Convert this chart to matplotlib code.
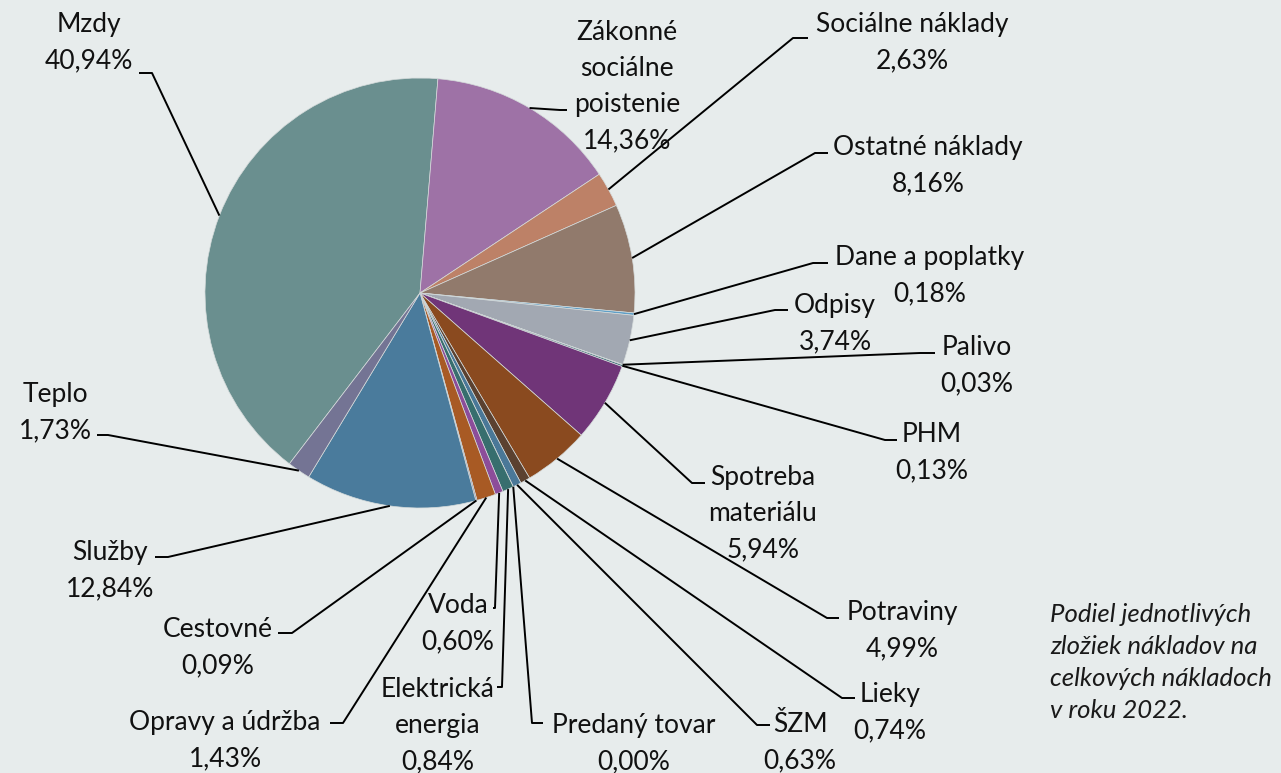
import numpy as np
import matplotlib
matplotlib.use("Agg")
import matplotlib.pyplot as plt

# údaje z grafu (poradie v smere hodinových ručičiek od Mzdy)
labels = ["Mzdy", "Zákonné\nsociálne\npoistenie", "Sociálne náklady", "Ostatné náklady",
          "Dane a poplatky", "Odpisy", "Palivo", "PHM", "Spotreba\nmateriálu", "Potraviny",
          "Lieky", "ŠZM", "Predaný tovar", "Elektrická\nenergia", "Voda", "Opravy a údržba",
          "Cestovné", "Služby", "Teplo"]
values = [40.94, 14.36, 2.63, 8.16, 0.18, 3.74, 0.03, 0.13, 5.94, 4.99,
          0.74, 0.63, 0.00, 0.84, 0.60, 1.43, 0.09, 12.84, 1.73]
colors = ["#6a8f8f", "#9e72a6", "#bd8167", "#917a6c", "#5f9fc7", "#a2a8b2", "#3c7373",
          "#3f6d78", "#703578", "#8a4a1f", "#5b4130", "#4a7898", "#8a4a1f", "#376e6e",
          "#8c4d9a", "#a85a24", "#7a6b8a", "#4a7b9c", "#747494"]
caption = ["Podiel jednotlivých", "zložiek nákladov na", "celkových nákladoch", "v roku 2022."]

# rozloženie popisov v pixeloch: stred textu x, y prvého riadku, lom čiary, koniec vodorovnej časti
label_pos = [(89, 22), (627, 30), (912, 22), (928, 145), (930, 255), (835, 303), (977, 345),
             (932, 432), (763, 475), (902, 610), (890, 692), (800, 722), (634, 723),
             (438, 687), (458, 603), (225, 720), (218, 627), (110, 550), (55, 392)]
elbows = [(152, 73, 139), (560, 110, 567), (793, 38, 808), (815, 153, 828), (813, 263, 828),
          (775, 310, 788), (920, 353, 935), (885, 440, 897), (692, 483, 705), (827, 618, 839),
          (842, 698, 855), (757, 725, 770), (532, 723, 543), (502, 687, 497), (495, 608, 493),
          (343, 723, 330), (292, 633, 278), (168, 557, 155), (108, 435, 97)]

W, H = 1281, 773
cx, cy, R = 420, 293, 215
line_step = 36


def py(y):
    return H - y


plt.rcParams['font.family'] = ['Lato', 'DejaVu Sans']
fig = plt.figure(figsize=(W / 100, H / 100), dpi=100)
bg = "#e7ecec"
fig.patch.set_facecolor(bg)
ax = fig.add_axes([0, 0, 1, 1])
ax.set_facecolor(bg)

wedges, _ = ax.pie(values, colors=colors, startangle=90 - 217.4, counterclock=False,
                   center=(cx, py(cy)), radius=R,
                   wedgeprops=dict(edgecolor="#d5dbdb", linewidth=0.5))
ax.set_xlim(0, W)
ax.set_ylim(0, H)
ax.set_aspect('equal')
ax.axis('off')

for w, lab, val, (tx, ty), (ex, ey, hx) in zip(wedges, labels, values, label_pos, elbows):
    mid = np.deg2rad((w.theta1 + w.theta2) / 2)
    px = cx + R * np.cos(mid)
    pyy = py(cy) + R * np.sin(mid)
    ax.plot([px, ex, hx], [pyy, py(ey), py(ey)], color="black", lw=1.4, solid_capstyle='butt')
    lines = lab.split("\n") + [f"{val:.2f}%".replace(".", ",")]
    for i, ln in enumerate(lines):
        ax.text(tx, py(ty + 10 + i * line_step), ln, ha='center', va='baseline',
                fontsize=19, color="#111111")

for i, ln in enumerate(caption):
    ax.text(1050, py(622 + i * 32), ln, ha='left', va='baseline', fontsize=18.5,
            fontstyle='italic', color="#1a1a1a")

fig.savefig("out.png", dpi=100, facecolor=bg)
